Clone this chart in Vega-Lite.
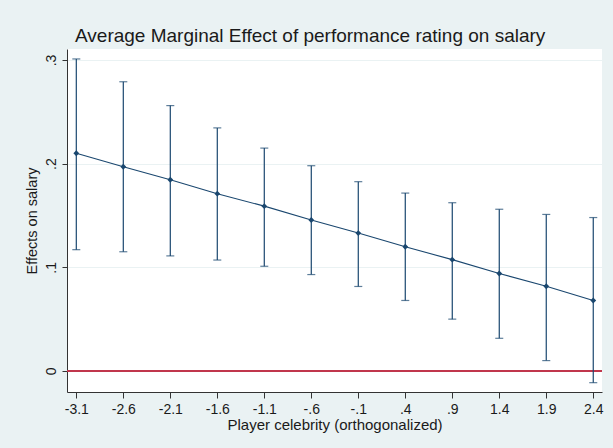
{
  "$schema": "https://vega.github.io/schema/vega-lite/v6.json",
  "width": 535,
  "height": 343,
  "autosize": {"type": "none"},
  "padding": {"left": 67, "top": 49, "right": 11, "bottom": 56},
  "background": "#EAF2F3",
  "config": {
    "view": {"stroke": null, "fill": "white"},
    "font": "Liberation Sans"
  },
  "title": {
    "text": "Average Marginal Effect of performance rating on salary",
    "anchor": "start",
    "frame": "group",
    "dx": 8,
    "offset": 3,
    "fontSize": 19,
    "fontWeight": "normal",
    "color": "#1a1a1a",
    "font": "Liberation Sans"
  },
  "data": {
    "values": [
      {"x": -3.1, "me": 0.210, "lo": 0.117, "hi": 0.301},
      {"x": -2.6, "me": 0.197, "lo": 0.115, "hi": 0.279},
      {"x": -2.1, "me": 0.1845, "lo": 0.111, "hi": 0.256},
      {"x": -1.6, "me": 0.171, "lo": 0.107, "hi": 0.2345},
      {"x": -1.1, "me": 0.159, "lo": 0.101, "hi": 0.215},
      {"x": -0.6, "me": 0.1456, "lo": 0.093, "hi": 0.198},
      {"x": -0.1, "me": 0.133, "lo": 0.0815, "hi": 0.1826},
      {"x": 0.4, "me": 0.1198, "lo": 0.068, "hi": 0.1716},
      {"x": 0.9, "me": 0.1074, "lo": 0.050, "hi": 0.1623},
      {"x": 1.4, "me": 0.094, "lo": 0.0315, "hi": 0.156},
      {"x": 1.9, "me": 0.0817, "lo": 0.010, "hi": 0.151},
      {"x": 2.4, "me": 0.068, "lo": -0.0113, "hi": 0.148}
    ]
  },
  "encoding": {
    "x": {
      "field": "x",
      "type": "quantitative",
      "scale": {"domain": [-3.199, 2.493], "nice": false, "zero": false},
      "axis": {
        "title": "Player celebrity (orthogonalized)",
        "values": [-3.1, -2.6, -2.1, -1.6, -1.1, -0.6, -0.1, 0.4, 0.9, 1.4, 1.9, 2.4],
        "labelExpr": "replace(replace(datum.value + '', '-0.', '-.'), '0.', '.')",
        "grid": false,
        "domainColor": "#333333",
        "tickColor": "#333333",
        "tickSize": 6,
        "labelPadding": 4,
        "labelFontSize": 14,
        "labelColor": "#1a1a1a",
        "labelFlush": false,
        "titleFontSize": 15,
        "titleFontWeight": "normal",
        "titleColor": "#1a1a1a",
        "titlePadding": 1
      }
    }
  },
  "layer": [
    {
      "mark": {"type": "rule", "color": "#c0374c", "strokeWidth": 1.2},
      "encoding": {"y": {"datum": 0, "type": "quantitative"}, "x": null}
    },
    {
      "mark": {"type": "rule", "color": "#1A476F", "strokeWidth": 1.2},
      "encoding": {
        "y": {
          "field": "lo",
          "type": "quantitative",
          "scale": {"domain": [-0.0203, 0.3106], "nice": false, "zero": false},
          "axis": {
            "title": "Effects on salary",
            "values": [0, 0.1, 0.2, 0.3],
            "labelExpr": "datum.value == 0 ? '0' : replace(format(datum.value, '.1f'), '0.', '.')",
            "labelAngle": 270,
            "labelAlign": "center",
            "labelBaseline": "alphabetic",
            "grid": true,
            "gridColor": "#EAF2F3",
            "gridWidth": 1.2,
            "domainColor": "#333333",
            "tickColor": "#333333",
            "tickSize": 5,
            "labelPadding": 7,
            "labelFontSize": 14,
            "labelColor": "#1a1a1a",
            "labelFlush": false,
            "titleFontSize": 14.5,
            "titleFontWeight": "normal",
            "titleColor": "#1a1a1a",
            "titlePadding": 5
          }
        },
        "y2": {"field": "hi"}
      }
    },
    {
      "mark": {"type": "tick", "orient": "horizontal", "color": "#1A476F", "size": 8, "thickness": 1.2},
      "encoding": {"y": {"field": "lo", "type": "quantitative"}}
    },
    {
      "mark": {"type": "tick", "orient": "horizontal", "color": "#1A476F", "size": 8, "thickness": 1.2},
      "encoding": {"y": {"field": "hi", "type": "quantitative"}}
    },
    {
      "mark": {"type": "line", "color": "#1A476F", "strokeWidth": 1.1},
      "encoding": {"y": {"field": "me", "type": "quantitative"}}
    },
    {
      "mark": {"type": "point", "shape": "diamond", "filled": true, "color": "#1A476F", "size": 34, "opacity": 1},
      "encoding": {"y": {"field": "me", "type": "quantitative"}}
    }
  ]
}
